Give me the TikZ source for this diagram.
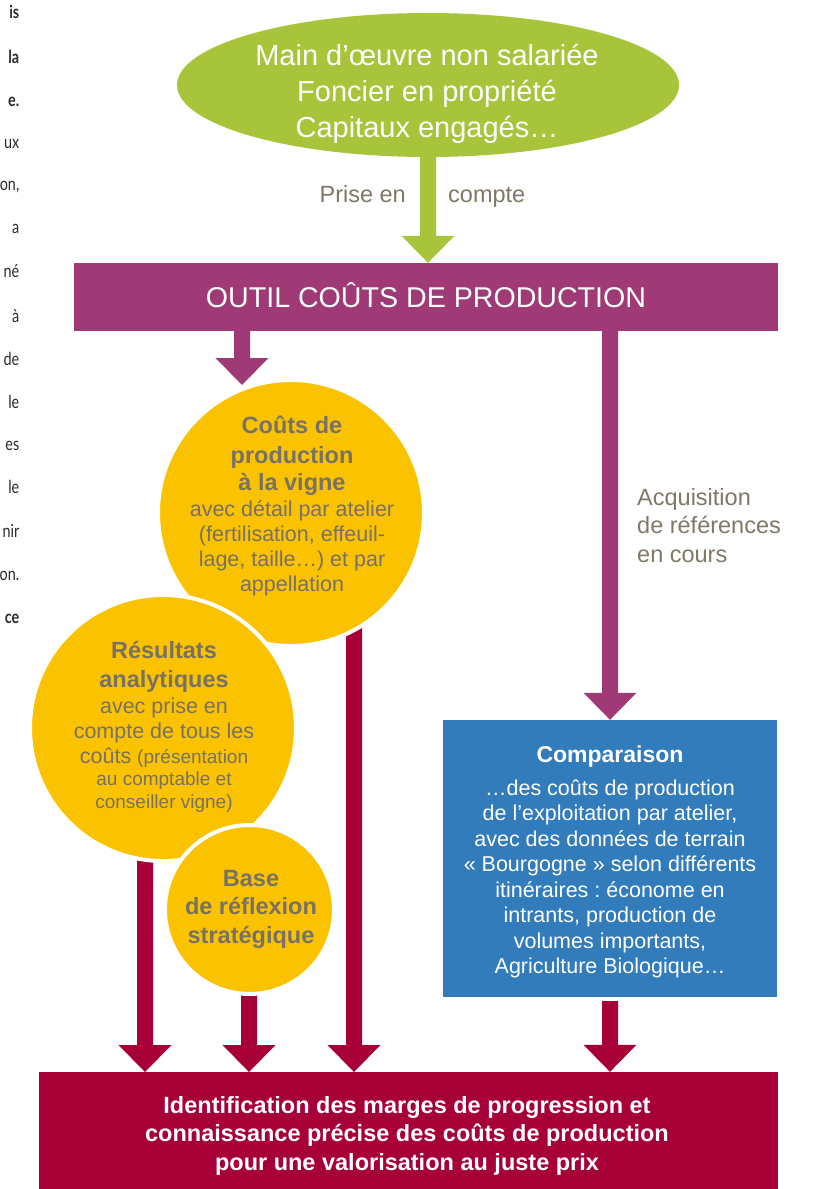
\documentclass[tikz,border=0pt]{standalone}
\usepackage{fontspec}
\setmainfont{Liberation Sans}
\newfontfamily\gillfont[FakeStretch=0.8]{Lato}
\usetikzlibrary{calc,shapes.geometric}
\definecolor{cgreen}{HTML}{A7C43A}
\definecolor{cpurple}{HTML}{A03A77}
\definecolor{cyellow}{HTML}{FBC200}
\definecolor{cgreytext}{HTML}{787166}
\definecolor{clabel}{HTML}{807867}
\definecolor{cblue}{HTML}{327CBC}
\definecolor{cred}{HTML}{A60036}
\definecolor{cbody}{HTML}{2B2B2B}
\pgfdeclarelayer{bg}
\pgfsetlayers{bg,main}
\newcommand{\fatarrow}[3]{%
  \fill[#1] ($(#2)+(-8,0)$) -- ($(#3)+(-8,27)$) -- ($(#3)+(-26.5,27)$) -- (#3)
    -- ($(#3)+(26.5,27)$) -- ($(#3)+(8,27)$) -- ($(#2)+(8,0)$) -- cycle;}
\newcommand{\bigb}{\bfseries\fontsize{23.5}{25.5}\selectfont}
\newcommand{\smallf}{\fontsize{19}{25}\selectfont}
\frenchspacing
\begin{document}
\begin{tikzpicture}[x=1pt,y=1pt,
  frag/.style={font=\gillfont\fontsize{18}{20}\selectfont, text=cbody, anchor=base east, inner sep=0pt},
  fragb/.style={frag, font=\gillfont\bfseries\fontsize{18}{20}\selectfont},
  lbl/.style={font=\fontsize{23.5}{28.5}\selectfont, text=clabel, inner sep=0pt},
  ctext/.style={font=\fontsize{21.5}{25.5}\selectfont, text=cgreytext, align=center, anchor=north, inner sep=0pt},
  wtext/.style={text=white, align=center, anchor=north, inner sep=0pt},
  bubble/.style={circle, fill=cyellow, draw=white, line width=4pt, inner sep=0pt},
  boxnode/.style={rectangle, inner sep=0pt}]
\useasboundingbox (0,0) rectangle (817,-1189);

% cut-off body text of the neighbouring column
\node[fragb] (f1) at (19.5,-18) {is};
\node[fragb] (f2) at (19.5,-63) {la};
\node[fragb] (f3) at (19.5,-106) {e.};
\node[frag] (f4) at (19.5,-148) {ux};
\node[frag] (f5) at (19.5,-190) {on,};
\node[frag] (f6) at (19.5,-233) {a};
\node[frag] (f7) at (19.5,-277) {né};
\node[frag] (f8) at (19.5,-322) {à};
\node[frag] (f9) at (19.5,-365) {de};
\node[frag] (f10) at (19.5,-408) {le};
\node[frag] (f11) at (19.5,-450) {es};
\node[frag] (f12) at (19.5,-493) {le};
\node[frag] (f13) at (19.5,-537) {nir};
\node[frag] (f14) at (19.5,-580) {on.};
\node[fragb] (f15) at (19.5,-623) {ce};

% top ellipse
\node[ellipse, fill=cgreen, minimum width=502pt, minimum height=144pt, inner sep=0pt] (ell) at (428,-85) {};
\node[wtext, font=\fontsize{29}{36}\selectfont] (ellT) at (427,-41)
  {\rule{0pt}{24pt}Main d’œuvre non salariée\\Foncier en propriété\\Capitaux engagés…};
\node[lbl, anchor=base east] (pe) at (406,-202) {Prise en};
\node[lbl, anchor=base west] (cp) at (448,-202) {compte};

% tool bar
\node[boxnode, fill=cpurple, minimum width=704pt, minimum height=68pt, text=white,
  font=\fontsize{28.6}{30}\selectfont, text height=20.5pt, text depth=0pt] (bar) at (426,-297) {OUTIL COÛTS DE PRODUCTION};

% circles
\node[bubble, minimum size=266pt] (c1) at (291,-513) {};
\node[bubble, minimum size=266pt] (c2) at (163,-728) {};
\node[bubble, minimum size=169pt] (c3) at (249.5,-909.5) {};

\node[ctext] (c1T) at (292,-409)
  {{\bigb\rule{0pt}{24pt}Coûts de}\\[4.5pt]
   {\bigb production}\\[1.5pt]
   {\bigb à la vigne}\\[0.5pt]
   avec détail par atelier\\
   (fertilisation, effeuil-\\[-0.5pt]
   lage, taille…) et par\\[-0.5pt]
   appellation};
\node[ctext, font=\fontsize{21.5}{25}\selectfont] (c2T) at (164,-634)
  {{\bigb\rule{0pt}{24pt}Résultats}\\[4pt]
   {\bigb analytiques}\\[1pt]
   avec prise en\\
   compte de tous les\\
   coûts {\smallf(présentation}\\[-3pt]
   {\smallf au comptable et}\\[-2pt]
   {\smallf conseiller vigne)}};
\node[ctext, font=\bfseries\fontsize{23.5}{28.5}\selectfont] (c3T) at (251,-862)
  {\rule{0pt}{24pt}Base\\de réflexion\\stratégique};

% right branch
\node[lbl, align=left, anchor=north west] (acq) at (637,-481)
  {\rule{0pt}{24pt}Acquisition\\de références\\en cours};
\node[boxnode, fill=cblue, minimum width=334pt, minimum height=277pt] (cmp) at (610,-858.5) {};
\node[wtext, font=\fontsize{21.5}{25.5}\selectfont] (cmpT) at (610,-738)
  {{\bfseries\fontsize{23}{25.5}\selectfont\rule{0pt}{24pt}Comparaison}\\[7.5pt]
   …des coûts de production\\
   de l’exploitation par atelier,\\
   avec des données de terrain\\
   « Bourgogne » selon différents\\
   itinéraires : économe en\\
   intrants, production de\\
   volumes importants,\\
   Agriculture Biologique…};

% bottom box
\node[boxnode, fill=cred, minimum width=739pt, minimum height=117pt] (bot) at (408.5,-1130.5) {};
\node[wtext, font=\bfseries\fontsize{23.5}{28.5}\selectfont] (botT) at (407,-1089)
  {\rule{0pt}{24pt}Identification des marges de progression et\\
   connaissance précise des coûts de production\\
   pour une valorisation au juste prix};

% connectors
\coordinate (gS) at (ell.south);
\coordinate (gT) at (bar.north -| ell.south);
\fatarrow{cgreen}{gS}{gT}
\coordinate (pLT) at (242,-385);
\coordinate (pLS) at (bar.south -| pLT);
\fatarrow{cpurple}{pLS}{pLT}
\coordinate (pRT) at (cmp.north);
\coordinate (pRS) at (bar.south -| cmp.north);
\fatarrow{cpurple}{pRS}{pRT}
\coordinate (rCS) at ($(cmp.south)+(0,-4)$);
\coordinate (rCT) at (bot.north -| cmp.south);
\fatarrow{cred}{rCS}{rCT}

\begin{pgfonlayer}{bg}
  \fill[white] (0,0) rectangle (817,-1189);
  \coordinate (tA) at (145,-1072);
  \coordinate (sA) at (c2 -| tA);
  \fatarrow{cred}{sA}{tA}
  \coordinate (tB) at (249,-1072);
  \coordinate (sB) at (c3 -| tB);
  \fatarrow{cred}{sB}{tB}
  \coordinate (tC) at (354,-1072);
  \coordinate (sC) at (c1 -| tC);
  \fatarrow{cred}{sC}{tC}
\end{pgfonlayer}
\end{tikzpicture}
\end{document}
